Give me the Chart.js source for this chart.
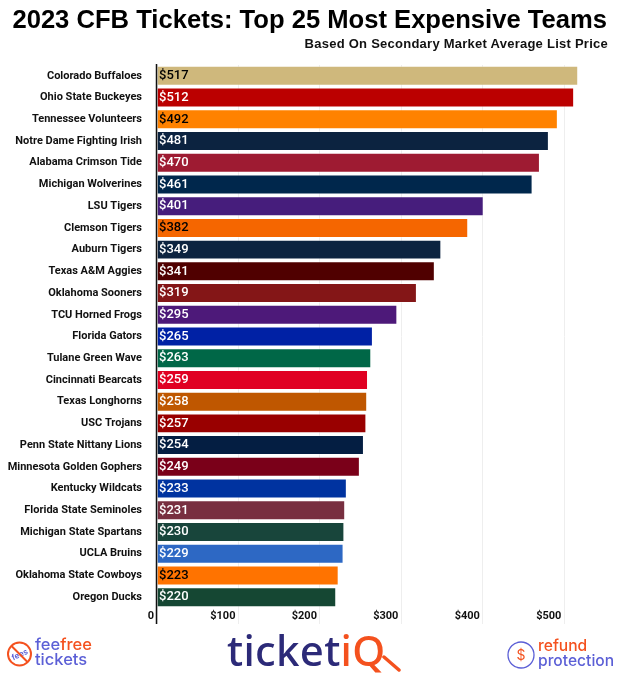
<!DOCTYPE html>
<html>
<head>
<meta charset="utf-8">
<title>2023 CFB Tickets</title>
<script src="https://cdn.jsdelivr.net/npm/chart.js"></script>
<style>
	html, body { margin: 0; padding: 0; background: #fff; }
	#wrap { position: relative; width: 620px; height: 673px; overflow: hidden; }
	#chart { position: absolute; left: 0; top: 0; }
	.head { position: absolute; font-family: "Liberation Sans", sans-serif; font-weight: bold; white-space: nowrap; }
	.logo { position: absolute; font-family: "Inter", "Noto Sans", sans-serif; font-weight: 500; white-space: nowrap; }
	.blue { color: #5b5fd6; }
	.orange { color: #f4511e; }
</style>
</head>
<body>
<div id="wrap">
	<canvas id="chart" width="620" height="673"></canvas>

	<div class="head" style="right:13px;top:4px;font-size:25.6px;line-height:30px;color:#000">2023 CFB Tickets: Top 25 Most Expensive Teams</div>
	<div class="head" style="right:12px;top:36px;font-size:13px;line-height:16px;letter-spacing:0.25px;color:#111">Based On Secondary Market Average List Price</div>

	<svg style="position:absolute;left:6px;top:640px" width="28" height="28" viewBox="0 0 28 28">
		<circle cx="13.5" cy="14" r="11.5" fill="none" stroke="#f4511e" stroke-width="2"/>
		<text x="13.5" y="17" font-family="Inter" font-size="8" font-weight="600" fill="#5b5fd6" text-anchor="middle" transform="rotate(-25 14 14)">fees</text>
		<line x1="5.5" y1="6" x2="21.5" y2="22" stroke="#f4511e" stroke-width="2"/>
	</svg>
	<div class="logo" style="left:35px;top:637px;font-size:16.5px;line-height:15px"><span class="blue">fee</span><span class="orange">free</span><br><span class="blue">tickets</span></div>

	<div class="logo" style="left:227px;top:622px;font-size:42px;line-height:56px;letter-spacing:0.3px;font-family:'Noto Sans'"><span style="color:#2c2a78">ticket</span><span class="orange">iQ</span></div>
	<svg style="position:absolute;left:380px;top:655px" width="24" height="18" viewBox="0 0 24 18">
		<line x1="4" y1="2" x2="19" y2="15" stroke="#f4511e" stroke-width="3.5" stroke-linecap="round"/>
	</svg>

	<svg style="position:absolute;left:506px;top:640px" width="30" height="30" viewBox="0 0 30 30">
		<circle cx="15" cy="15" r="13" fill="none" stroke="#5b5fd6" stroke-width="1.3"/>
		<text x="15" y="20" font-family="Inter" font-size="14" fill="#f4511e" text-anchor="middle">$</text>
	</svg>
	<div class="logo" style="left:538px;top:638px;font-size:15.6px;line-height:15px"><span class="orange">refund</span><br><span class="blue">protection</span></div>
</div>

<script>
const teams = [
	'Colorado Buffaloes', 'Ohio State Buckeyes', 'Tennessee Volunteers', 'Notre Dame Fighting Irish',
	'Alabama Crimson Tide', 'Michigan Wolverines', 'LSU Tigers', 'Clemson Tigers', 'Auburn Tigers',
	'Texas A&M Aggies', 'Oklahoma Sooners', 'TCU Horned Frogs', 'Florida Gators', 'Tulane Green Wave',
	'Cincinnati Bearcats', 'Texas Longhorns', 'USC Trojans', 'Penn State Nittany Lions',
	'Minnesota Golden Gophers', 'Kentucky Wildcats', 'Florida State Seminoles', 'Michigan State Spartans',
	'UCLA Bruins', 'Oklahoma State Cowboys', 'Oregon Ducks'
];
const prices = [517, 512, 492, 481, 470, 461, 401, 382, 349, 341, 319, 295, 265, 263, 259, 258, 257, 254, 249, 233, 231, 230, 229, 223, 220];
const barColors = [
	'#cfb87c', '#bb0000', '#ff8200', '#0c2340', '#9e1b32', '#00274c', '#461d7c', '#f56600', '#0c2340',
	'#500000', '#841617', '#4d1979', '#0021a5', '#006747', '#e00122', '#bf5700', '#990000', '#041e42',
	'#7a0019', '#0033a0', '#782f40', '#18453b', '#2d68c4', '#ff7300', '#154733'
];
const labelColors = [
	'#000', '#fff', '#000', '#fff', '#fff', '#fff', '#fff', '#000', '#fff', '#fff', '#fff', '#fff', '#fff',
	'#fff', '#fff', '#fff', '#fff', '#fff', '#fff', '#fff', '#fff', '#fff', '#fff', '#000', '#fff'
];
const xTicks = [0, 100, 200, 300, 400, 500];

// draws the $ value at the start of each bar
const barLabels = {
	id: 'barLabels',
	afterDatasetsDraw(chart) {
		const ctx = chart.ctx;
		const bars = chart.getDatasetMeta(0).data;
		ctx.save();
		ctx.font = '500 13px Roboto';
		ctx.textAlign = 'left';
		ctx.textBaseline = 'middle';
		bars.forEach((bar, i) => {
			ctx.fillStyle = labelColors[i];
			ctx.fillText('$' + prices[i], bar.base + 1.5, bar.y);
		});
		ctx.restore();
	}
};

const zeroLine = {
	id: 'zeroLine',
	afterDraw(chart) {
		const ctx = chart.ctx;
		const x = chart.scales.x.getPixelForValue(0) - 0.5;
		ctx.save();
		ctx.strokeStyle = '#111';
		ctx.lineWidth = 1.5;
		ctx.beginPath();
		ctx.moveTo(x, chart.chartArea.top - 1);
		ctx.lineTo(x, chart.chartArea.bottom + 16);
		ctx.stroke();
		ctx.restore();
	}
};

new Chart(document.querySelector('#chart'), {
	type: 'bar',
	data: {
		labels: teams,
		datasets: [{
			data: prices,
			backgroundColor: barColors,
			borderColor: 'rgba(255,255,255,0.35)',
			borderWidth: 1,
			categoryPercentage: 1,
			barPercentage: 0.92
		}]
	},
	options: {
		indexAxis: 'y',
		responsive: false,
		animation: false,
		devicePixelRatio: 1,
		layout: { padding: { top: 65, right: 10, bottom: 49, left: 0 } },
		plugins: {
			legend: { display: false },
			tooltip: { enabled: false }
		},
		scales: {
			x: {
				min: 0,
				max: 556,
				afterBuildTicks(axis) { axis.ticks = xTicks.map(v => ({ value: v })); },
				afterFit(axis) { axis.height = 16; },
				grid: { color: '#eeeeee', tickColor: '#eeeeee', tickLength: 16 },
				border: { display: false },
				ticks: {
					align: 'end',
					labelOffset: -3,
					padding: -14,
					maxRotation: 0,
					color: '#111',
					font: { family: 'Roboto', size: 11, weight: 'bold' },
					callback: v => v === 0 ? '0' : '$' + v
				}
			},
			y: {
				afterFit(axis) { axis.width = 157; },
				grid: { display: false },
				border: { display: false },
				ticks: {
					autoSkip: false,
					padding: 7,
					color: '#111',
					font: { family: 'Roboto', size: 11, weight: 'bold' }
				}
			}
		}
	},
	plugins: [barLabels, zeroLine]
});
</script>
</body>
</html>
